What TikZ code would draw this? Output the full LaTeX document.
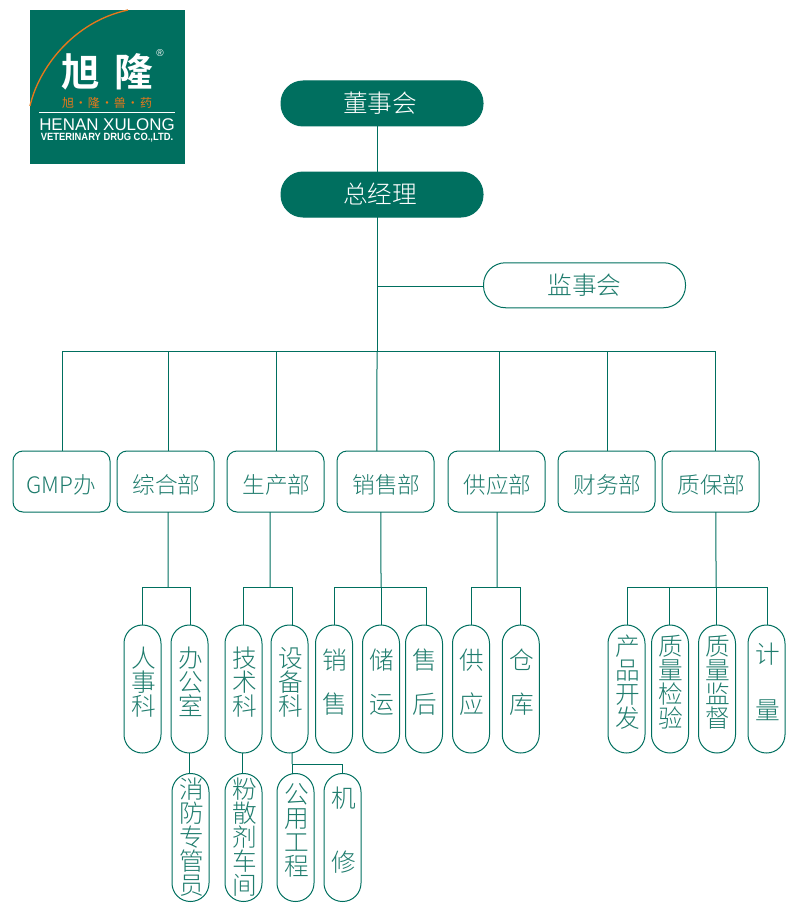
\documentclass[tikz,border=0pt]{standalone}
\usepackage{fontspec}
\setmainfont{Noto Sans CJK SC Light}[BoldFont=Noto Sans CJK SC Bold]
\newfontfamily\latinfont{Liberation Sans}
\newfontfamily\logofont{Noto Sans CJK SC}
\usetikzlibrary{positioning}
\definecolor{xlgreen}{HTML}{006F5F}
\definecolor{xltext}{HTML}{1F7C6D}
\definecolor{xlorange}{HTML}{E8781A}

\begin{document}
\begin{tikzpicture}[
  x=0.75pt, y=-0.75pt,
  toppill/.style={rectangle, rounded corners=16.5pt, minimum width=151.5pt, minimum height=33.75pt,
    draw=xlgreen, line width=0.75pt, fill=xlgreen, text=white, font=\fontsize{18.5}{18}\selectfont,
    inner sep=0pt, outer sep=0pt},
  dept/.style={rectangle, rounded corners=7.5pt, minimum width=72.75pt, minimum height=45.75pt,
    draw=xlgreen, line width=0.75pt, text=xltext, font=\fontsize{17}{18}\selectfont,
    text height=19.5pt, text depth=2pt, inner sep=0pt, outer sep=0pt},
  pill/.style={rectangle, rounded corners=13.8pt, minimum width=27.75pt, minimum height=96pt,
    draw=xlgreen, line width=0.75pt, inner sep=0pt, outer sep=0pt},
  pilltext/.style={align=center, text=xltext, inner sep=0pt, font=\fontsize{18.5}{18}\selectfont},
  conn/.style={draw=xlgreen, line width=0.75pt},
  every label/.style={pilltext, xshift=0.75pt, yshift=5.25pt},
]
  \useasboundingbox (0,0) rectangle (800,920);

  % logo
  \fill[xlgreen] (30,10) rectangle (185,164);
  \draw[xlorange, line width=1pt] (30,106) .. controls (38,70) and (72,22) .. (128,10);
  \node[text=white, font=\fontsize{29}{30}\selectfont\bfseries, inner sep=0pt] (logoa) at (81,72) {旭};
  \node[text=white, font=\fontsize{29}{30}\selectfont\bfseries, inner sep=0pt] (logob) at (134,72) {隆};
  \node[text=white, font=\latinfont\fontsize{7.5}{8}\selectfont, inner sep=0pt] (logor) at (160,53) {®};
  \node[text=xlorange, font=\logofont\fontsize{9}{10}\selectfont, inner sep=0pt] (logoc) at (107,103)
    {旭\hspace{0.75pt}·\hspace{0.75pt}隆\hspace{0.75pt}·\hspace{0.75pt}兽\hspace{0.75pt}·\hspace{0.75pt}药};
  \draw[white, line width=0.75pt] (39,112.5) -- (175,112.5);
  \node[text=white, font=\latinfont\fontsize{12.7}{13}\selectfont, inner sep=0pt] (logod) at (107,124.5) {HENAN XULONG};
  \node[text=white, font=\latinfont\bfseries\fontsize{7.9}{8}\selectfont, inner sep=0pt,
    xscale=0.89, transform shape] (logoe) at (107,138) {VETERINARY DRUG CO.,LTD.};

  % top of the chart
  \node[toppill] (dongshi) at (382,103.5) {董事会\hspace*{3pt}};
  \node[toppill, below=34.5pt of dongshi] (zongjing) {总经理\hspace*{3pt}};
  \node[toppill, fill=white, text=xltext] (jianshi) at (584.5,285.25) {监事会};

  % departments
  \node[dept] (gmp) at (61.5,481.5) {GMP办};
  \node[dept, right=5.25pt of gmp] (zonghe) {综合部\hspace*{-1.5pt}};
  \node[dept, right=9.75pt of zonghe] (shengchan) {生产部\hspace*{-1.5pt}};
  \node[dept, right=9.75pt of shengchan] (xiaoshou) {销售部\hspace*{-1.5pt}};
  \node[dept, right=10.5pt of xiaoshou] (gongying) {供应部\hspace*{-1.5pt}};
  \node[dept, right=9.75pt of gongying] (caiwu) {财务部\hspace*{-1.5pt}};
  \node[dept, right=5.25pt of caiwu] (zhibao) {质保部\hspace*{-1.5pt}};

  % second row
  \node[pill, label={center:人\\事\\科}] (renshi) at (142.5,689) {};
  \node[pill, label={center:办\\公\\室}] (bangong) at (189.5,689) {};
  \node[pill, label={center:技\\术\\科}] (jishu) at (243.5,689) {};
  \node[pill, label={center:设\\备\\科}] (shebei) at (289.5,689) {};
  \node[pill, label={center:销\\[15pt]售}] (xiao) at (334,689) {};
  \node[pill, label={center:储\\[15pt]运}] (chuyun) at (381,689) {};
  \node[pill, label={center:售\\[15pt]后}] (shouhou) at (424,689) {};
  \node[pill, label={center:供\\[15pt]应}] (gong) at (471,689) {};
  \node[pill, label={center:仓\\[15pt]库}] (cangku) at (520.75,689) {};
  \node[pill, label={center:产\\品\\开\\发}] (chanpin) at (626.5,689) {};
  \node[pill, label={center:质\\量\\检\\验}] (jianyan) at (670,689) {};
  \node[pill, label={center:质\\量\\监\\督}] (jiandu) at (717,689) {};
  \node[pill, label={center:计\\[24pt]量}] (jiliang) at (766.5,689) {};

  % third row
  \node[pill, label={[yshift=-5.25pt]center:消\\防\\专\\管\\员}] (xiaofang) at (190.5,837.5) {};
  \node[pill, label={[yshift=-5.25pt]center:粉\\散\\剂\\车\\间}] (fensan) at (243.5,837.5) {};
  \node[pill, label={center:公\\用\\工\\程}] (gongcheng) at (295.5,837.5) {};
  \node[pill, label={center:机\\[30pt]修}] (jixiu) at (342.5,837.5) {};

  \coordinate (hub) at (377,351);
  \coordinate (jianhub) at (377,286);
  \coordinate (hubz) at (168,587);
  \coordinate (hubs) at (270,587);
  \coordinate (hubx) at (381,587);
  \coordinate (hubg) at (497,587);
  \coordinate (hubb) at (716,587);
  \coordinate (hube) at (292,764);

  \draw[conn] ([xshift=-3.75pt]dongshi.south) -- ([xshift=-3.75pt]zongjing.north);
  \draw[conn] ([xshift=-3.75pt]zongjing.south) -- (hub);
  \draw[conn] (jianhub) -- (jianhub -| jianshi.west);

  \draw[conn] ([xshift=1.1pt]gmp.north) |- (hub);
  \draw[conn] ([xshift=1.9pt]zonghe.north) |- (hub);
  \draw[conn] ([xshift=0.4pt]shengchan.north) |- (hub);
  \draw[conn] ([xshift=-6.4pt]xiaoshou.north) -- (hub);
  \draw[conn] ([xshift=2.3pt]gongying.north) |- (hub);
  \draw[conn] ([xshift=0.4pt]caiwu.north) |- (hub);
  \draw[conn] ([xshift=4.1pt]zhibao.north) |- (hub);

  \draw[conn] ([xshift=1.9pt]zonghe.south) -- (hubz);
  \draw[conn] (renshi.north) |- (hubz);
  \draw[conn] ([xshift=1.1pt]bangong.north) |- (hubz);

  \draw[conn] ([xshift=-4.1pt]shengchan.south) -- (hubs);
  \draw[conn] (jishu.north) |- (hubs);
  \draw[conn] ([xshift=2.6pt]shebei.north) |- (hubs);

  \draw[conn] ([xshift=-3.4pt]xiaoshou.south) -- (hubx);
  \draw[conn] (xiao.north) |- (hubx);
  \draw[conn] (chuyun.north) |- (hubx);
  \draw[conn] ([xshift=1.5pt]shouhou.north) |- (hubx);

  \draw[conn] ([xshift=0.4pt]gongying.south) -- (hubg);
  \draw[conn] (gong.north) |- (hubg);
  \draw[conn] (cangku.north) |- (hubg);

  \draw[conn] ([xshift=4.1pt]zhibao.south) -- (hubb);
  \draw[conn] ([xshift=1.1pt]chanpin.north) |- (hubb);
  \draw[conn] ([xshift=-0.75pt]jianyan.north) |- (hubb);
  \draw[conn] ([xshift=-0.75pt]jiandu.north) |- (hubb);
  \draw[conn] ([xshift=1.1pt]jiliang.north) |- (hubb);

  \draw[conn] (bangong.south) -- (bangong.south |- xiaofang.north);
  \draw[conn] ([xshift=-0.9pt]jishu.south) -- ([xshift=-0.9pt]fensan.north);
  \draw[conn] ([xshift=2pt]shebei.south) -- (hube);
  \draw[conn] (hube) -- (hube |- gongcheng.north);
  \draw[conn] (jixiu.north) |- (hube);
\end{tikzpicture}
\end{document}
